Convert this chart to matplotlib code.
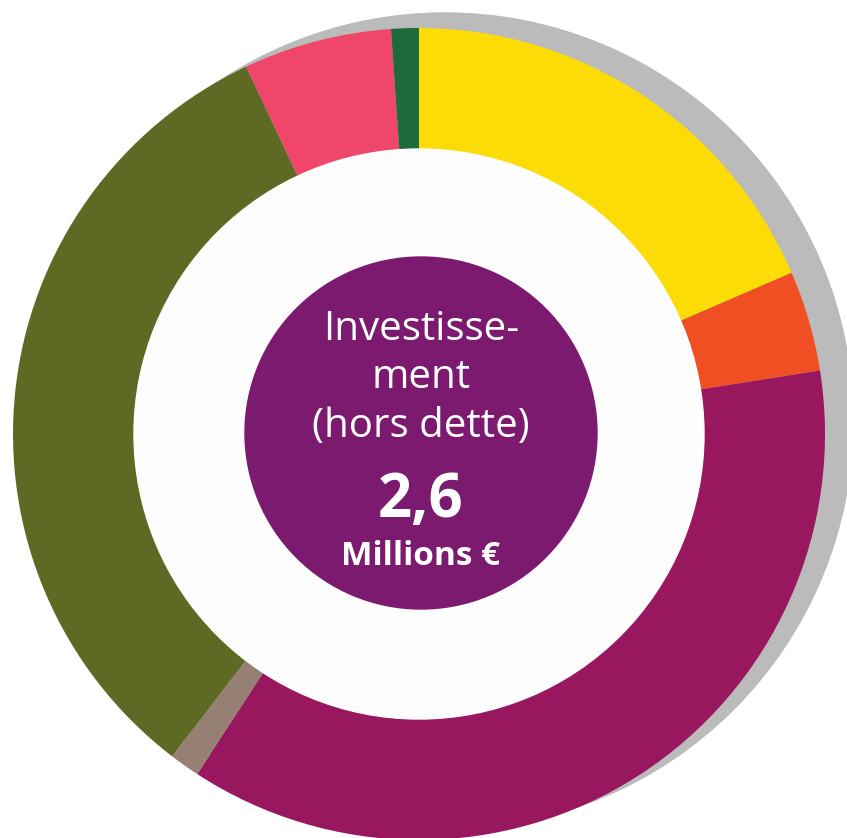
import matplotlib.pyplot as plt
from matplotlib.patches import Circle

# shares of the investment, clockwise from 12 o'clock (percent)
shares = [18.5, 4.0, 36.7, 1.2, 32.6, 5.9, 1.1]
colors = ["#FCDC06", "#F04E23", "#99175F", "#958073", "#5E6A24", "#EF4669", "#1E6A3A"]

title_lines = ["Investisse-", "ment", "(hors dette)"]
total_label = "2,6"
unit_label = "Millions €"

W, H = 847, 838
fig = plt.figure(figsize=(W / 100, H / 100), dpi=100)
ax = fig.add_axes([0, 0, 1, 1])

cx, cy = 419, H - 434
r_out, r_in = 406, 285

# grey shadow behind the ring
ax.add_patch(Circle((445, H - 421), 408, color="#BBBBBB", zorder=0))

ax.pie(
    shares,
    colors=colors,
    startangle=90,
    counterclock=False,
    radius=r_out,
    center=(cx, cy),
    wedgeprops=dict(width=r_out - r_in, linewidth=0),
    frame=True,
)
ax.set_xlim(0, W)
ax.set_ylim(0, H)
ax.set_aspect("equal")
ax.axis("off")

ax.add_patch(Circle((cx, cy), r_in, color="#FDFDFD", zorder=3))
ax.add_patch(Circle((421, H - 433), 176, color="#7B1A6F", zorder=4))

tx = 421
font = "Open Sans"
for line, y in zip(title_lines, [340, 388, 437]):
    ax.text(tx, H - y, line, ha="center", va="baseline", fontsize=29,
            color="white", family=font, zorder=5)
ax.text(tx, H - 517, total_label, ha="center", va="baseline", fontsize=43,
        color="white", family=font, fontweight="bold", zorder=5)
ax.text(tx, H - 565, unit_label, ha="center", va="baseline", fontsize=24,
        color="white", family=font, fontweight="bold", zorder=5)

plt.savefig("out.png", dpi=100)
